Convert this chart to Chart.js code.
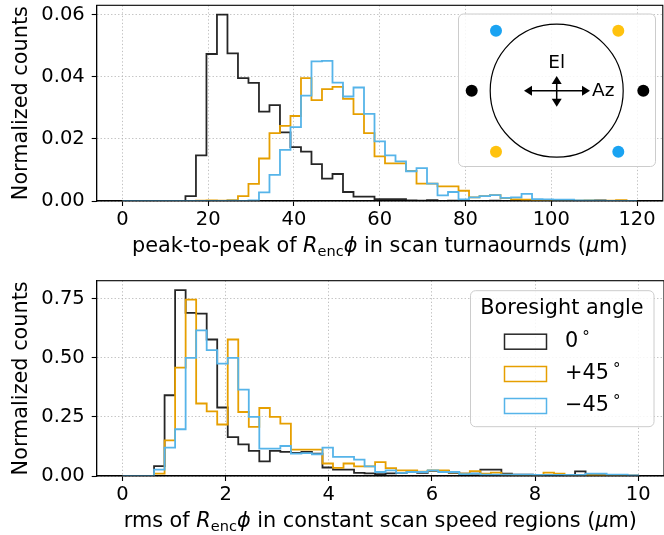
<!DOCTYPE html>
<html>
<head>
<meta charset="utf-8">
<script src="https://cdn.jsdelivr.net/npm/chart.js@4"></script>
<style>
  html, body { margin: 0; padding: 0; background: #fff; }
  #wrap { position: relative; width: 664px; height: 535px; }
  canvas { position: absolute; left: 0; }
  #turn { top: 0; }
  #rms { top: 270px; }
</style>
</head>
<body>
<div id="wrap">
  <canvas id="turn" width="664" height="270"></canvas>
  <canvas id="rms" width="664" height="265"></canvas>
</div>
<script>
// peak-to-peak in turnarounds: 49 bins over 0..120 um
const turnTicks = [0, 20, 40, 60, 80, 100, 120];
const turnYTicks = [0, 0.02, 0.04, 0.06];
const turnZero = [
  0, 0, 0, 0, 0, 0, 0.0016, 0.0147, 0.0474, 0.0601,
  0.0476, 0.0396, 0.0381, 0.0288, 0.0309, 0.0221, 0.0174, 0.0159, 0.0119, 0.0072,
  0.0087, 0.0029, 0.0014, 0.0014, 0.0006, 0.0006, 0.0006, 0.0002, 0.0001, 0.0003,
  0, 0.0001, 0, 0, 0, 0.0001, 0, 0, 0, 0,
  0, 0.0001, 0.0002, 0, 0, 0.0002, 0, 0, 0
];
const turnPlus = [
  0, 0, 0, 0, 0, 0, 0, 0.0001, 0.0002, 0.0001,
  0.0003, 0.0016, 0.0055, 0.0137, 0.0219, 0.0242, 0.0274, 0.0396, 0.0325, 0.0361,
  0.0368, 0.0329, 0.0280, 0.0219, 0.0144, 0.0121, 0.0121, 0.0097, 0.0056, 0.0056,
  0.0047, 0.0047, 0.0033, 0.0012, 0.0016, 0.0019, 0.0009, 0.0005, 0.0004, 0.0003,
  0.0002, 0.0002, 0.0001, 0.0001, 0.0002, 0.0001, 0.0001, 0.0003, 0
];
const turnMinus = [
  0, 0, 0, 0, 0, 0, 0, 0, 0, 0,
  0.0001, 0, 0.0002, 0.0028, 0.0084, 0.0165, 0.0238, 0.0340, 0.0450, 0.0452,
  0.0382, 0.0337, 0.0366, 0.0281, 0.0192, 0.0147, 0.0128, 0.0096, 0.0106, 0.0056,
  0.0018, 0.0029, 0.0005, 0.0012, 0.0016, 0.0019, 0.0010, 0.0012, 0.0023, 0.0006,
  0.0005, 0.0004, 0.0004, 0.0002, 0.0002, 0.0001, 0, 0, 0
];

// rms in constant-speed regions: 49 bins over 0..10 um
const rmsTicks = [0, 2, 4, 6, 8, 10];
const rmsYTicks = [0, 0.25, 0.5, 0.75];
const rmsZero = [
  0, 0, 0, 0.042, 0.342, 0.787, 0.691, 0.688, 0.578, 0.290,
  0.165, 0.134, 0.106, 0.062, 0.106, 0.102, 0.098, 0.102, 0.095, 0.036,
  0.027, 0.027, 0.013, 0.011, 0.008, 0.011, 0.013, 0.017, 0.013, 0.022,
  0.022, 0.013, 0.010, 0.010, 0.027, 0.027, 0.010, 0.006, 0.006, 0.004,
  0.003, 0.003, 0.003, 0.020, 0.006, 0.004, 0.003, 0.002, 0.001
];
const rmsPlus = [
  0, 0, 0, 0.010, 0.151, 0.459, 0.747, 0.307, 0.274, 0.218,
  0.578, 0.271, 0.208, 0.288, 0.250, 0.222, 0.112, 0.112, 0.112, 0.053,
  0.034, 0.053, 0.041, 0.041, 0.059, 0.033, 0.024, 0.024, 0.018, 0.024,
  0.024, 0.015, 0.010, 0.021, 0.010, 0.014, 0.006, 0.005, 0.005, 0.004,
  0.014, 0.010, 0.004, 0.003, 0.004, 0.003, 0.002, 0.002, 0.001
];
const rmsMinus = [
  0, 0, 0, 0.027, 0.120, 0.198, 0.500, 0.617, 0.533, 0.476,
  0.500, 0.366, 0.250, 0.116, 0.116, 0.127, 0.095, 0.097, 0.092, 0.120,
  0.081, 0.081, 0.069, 0.041, 0.017, 0.024, 0.013, 0.017, 0.017, 0.024,
  0.017, 0.017, 0.008, 0.010, 0.006, 0.006, 0.006, 0.006, 0.006, 0.005,
  0.005, 0.005, 0.005, 0.005, 0.010, 0.010, 0.006, 0.006, 0.003
];

const seriesLabels = ['0', '+45', '\u221245'];
const seriesColors = ['rgba(0,0,0,0.85)', '#E69F00', '#56B4E9'];

const FONT = '"DejaVu Sans", sans-serif';
const TICK_SIZE = 19.5;
const LABEL_SIZE = 20.8;

const binEdges = (hi, n) => Array.from({ length: n + 1 }, (_, i) => (i * hi) / n);

// outline of a step histogram: up from the first edge, across the bins, down at the last edge
const stepPoints = (edges, counts) => {
  const pts = [{ x: edges[0], y: 0 }];
  counts.forEach((c, i) => pts.push({ x: edges[i], y: c }));
  pts.push({ x: edges[counts.length], y: 0 });
  return pts;
};

const makeDatasets = (edges, series) =>
  series.map((counts, i) => ({
    label: seriesLabels[i],
    data: stepPoints(edges, counts),
    stepped: 'before', // horizontal first, then vertical at the next edge
    borderColor: seriesColors[i],
    borderWidth: 1.8,
    pointRadius: 0,
    fill: false,
    order: 2 - i,
  }));

const axisStyle = {
  grid: {
    color: '#b0b0b0',
    lineWidth: 0.8,
    tickColor: '#000',
    tickLength: 5,
    tickWidth: 1.1,
    tickBorderDash: [],
  },
  border: { color: '#000', width: 1.1, dash: [1.3, 2.2] },
};

// no extra room for edge tick labels, the plot box is fixed by layout padding
const noScalePadding = (s) => {
  s.paddingTop = 0;
  s.paddingBottom = 0;
  s.paddingLeft = 0;
  s.paddingRight = 0;
};

// full box round the plot area
const framePlugin = {
  id: 'frame',
  afterDatasetsDraw(chart) {
    const { ctx, chartArea: a } = chart;
    ctx.save();
    ctx.strokeStyle = '#000';
    ctx.lineWidth = 1.1;
    ctx.strokeRect(a.left, a.top, a.right - a.left, a.bottom - a.top);
    ctx.restore();
  },
};

// x label with italic symbols and a subscript
const drawRich = (ctx, parts, cx, y, size) => {
  const fontFor = (p) => `${p.it ? 'italic ' : ''}${p.sub ? size * 0.7 : size}px ${FONT}`;
  let total = 0;
  parts.forEach((p) => {
    ctx.font = fontFor(p);
    p.w = ctx.measureText(p.t).width;
    total += p.w;
  });
  let x = cx - total / 2;
  ctx.textAlign = 'left';
  ctx.textBaseline = 'alphabetic';
  ctx.fillStyle = '#000';
  parts.forEach((p) => {
    ctx.font = fontFor(p);
    ctx.fillText(p.t, x, y + (p.sub ? size * 0.2 : 0));
    x += p.w;
  });
};

const xTitlePlugin = (parts, baseline) => ({
  id: 'xTitle',
  afterDraw(chart) {
    const { ctx, chartArea: a } = chart;
    ctx.save();
    drawRich(ctx, parts.map((p) => ({ ...p })), (a.left + a.right) / 2, baseline, LABEL_SIZE);
    ctx.restore();
  },
});

const roundBox = (ctx, x, y, w, h, r) => {
  ctx.beginPath();
  ctx.roundRect(x, y, w, h, r);
  ctx.fillStyle = 'rgba(255,255,255,0.85)';
  ctx.fill();
  ctx.strokeStyle = '#cccccc';
  ctx.lineWidth = 1;
  ctx.stroke();
};

// boresight sketch: receiver circle, detector pairs and Az/El directions
const compassPlugin = {
  id: 'compass',
  afterDatasetsDraw(chart) {
    const ctx = chart.ctx;
    const cx = 556.7, cy = 90.7;
    ctx.save();
    roundBox(ctx, 458.5, 14, 197, 152.5, 5);

    ctx.beginPath();
    ctx.arc(cx, cy, 66.5, 0, Math.PI * 2);
    ctx.strokeStyle = '#000';
    ctx.lineWidth = 1.2;
    ctx.stroke();

    const dots = [
      [496, 30.7, '#1aa3f2'], [618.3, 30.7, '#ffc20e'],
      [471.7, cy, '#000'], [643.3, cy, '#000'],
      [496, 151.7, '#ffc20e'], [618.3, 151.7, '#1aa3f2'],
    ];
    dots.forEach(([x, y, c]) => {
      ctx.beginPath();
      ctx.arc(x, y, 6, 0, Math.PI * 2);
      ctx.fillStyle = c;
      ctx.fill();
    });

    const head = (tx, ty, dx, dy) => {
      // triangle pointing along (dx, dy)
      const L = 8, W = 5;
      ctx.beginPath();
      ctx.moveTo(tx, ty);
      ctx.lineTo(tx - dx * L - dy * W, ty - dy * L + dx * W);
      ctx.lineTo(tx - dx * L + dy * W, ty - dy * L - dx * W);
      ctx.closePath();
      ctx.fillStyle = '#000';
      ctx.fill();
    };
    ctx.strokeStyle = '#000';
    ctx.lineWidth = 1.5;
    ctx.beginPath();
    ctx.moveTo(528, cy); ctx.lineTo(586, cy);
    ctx.moveTo(cx, 80); ctx.lineTo(cx, 103);
    ctx.stroke();
    head(524, cy, -1, 0);
    head(590, cy, 1, 0);
    head(cx, 76, 0, -1);
    head(cx, 106.7, 0, 1);

    ctx.fillStyle = '#000';
    ctx.font = `18.5px ${FONT}`;
    ctx.textBaseline = 'middle';
    ctx.textAlign = 'center';
    ctx.fillText('El', cx, 63);
    ctx.textAlign = 'left';
    ctx.fillText('Az', 592, cy + 0.5);
    ctx.restore();
  },
};

// legend box with title, outlined patches and angle labels
const legendPlugin = {
  id: 'boxLegend',
  afterDatasetsDraw(chart) {
    const ctx = chart.ctx;
    ctx.save();
    roundBox(ctx, 470.5, 20.7, 183.5, 136, 5);
    ctx.fillStyle = '#000';
    ctx.font = `${LABEL_SIZE}px ${FONT}`;
    ctx.textAlign = 'center';
    ctx.textBaseline = 'middle';
    ctx.fillText('Boresight angle', 562, 38.5);

    const rows = [71.7, 104, 136];
    seriesLabels.forEach((lab, i) => {
      const y = rows[i];
      ctx.strokeStyle = seriesColors[i];
      ctx.lineWidth = 1.5;
      ctx.strokeRect(504.5, y - 7.5, 42, 15);
      ctx.fillStyle = '#000';
      ctx.textAlign = 'left';
      ctx.textBaseline = 'middle';
      ctx.font = `${LABEL_SIZE}px ${FONT}`;
      ctx.fillText(lab, 565, y);
      const w = ctx.measureText(lab).width;
      ctx.font = `15px ${FONT}`;
      ctx.fillText('\u00b0', 565 + w + 4, y - 4);
    });
    ctx.restore();
  },
};

const buildChart = (id, cfg) => {
  const edges = binEdges(cfg.hi, cfg.series[0].length);
  return new Chart(document.getElementById(id), {
    type: 'line',
    data: { datasets: makeDatasets(edges, cfg.series) },
    options: {
      responsive: false,
      maintainAspectRatio: false,
      animation: false,
      events: [],
      layout: { padding: cfg.padding },
      plugins: { legend: { display: false }, tooltip: { enabled: false } },
      scales: {
        x: {
          type: 'linear',
          min: cfg.xMin,
          max: cfg.xMax,
          ...axisStyle,
          afterBuildTicks: (s) => { s.ticks = cfg.xTicks.map((v) => ({ value: v })); },
          afterFit: (s) => { s.height = cfg.xHeight; noScalePadding(s); },
          ticks: {
            font: { family: FONT, size: TICK_SIZE },
            color: '#000',
            padding: 2,
            maxRotation: 0,
            autoSkip: false,
            callback: (v) => String(v),
          },
        },
        y: {
          type: 'linear',
          min: 0,
          max: cfg.yMax,
          ...axisStyle,
          afterBuildTicks: (s) => { s.ticks = cfg.yTicks.map((v) => ({ value: v })); },
          afterFit: (s) => { s.width = 96.7; noScalePadding(s); },
          ticks: {
            font: { family: FONT, size: TICK_SIZE },
            color: '#000',
            padding: 7,
            callback: (v) => v.toFixed(2),
          },
          title: {
            display: true,
            text: 'Normalized counts',
            color: '#000',
            font: { family: FONT, size: LABEL_SIZE },
            padding: { top: 9, bottom: 0 },
          },
        },
      },
    },
    plugins: cfg.plugins,
  });
};

buildChart('turn', {
  hi: 120,
  series: [turnZero, turnPlus, turnMinus],
  xMin: -6, xMax: 126, xTicks: turnTicks,
  yMax: 0.0631, yTicks: turnYTicks,
  xHeight: 69,
  padding: { top: 5.3, right: 1.2, left: 0, bottom: 0 },
  plugins: [
    framePlugin,
    compassPlugin,
    xTitlePlugin([
      { t: 'peak-to-peak of ' }, { t: 'R', it: true }, { t: 'enc', sub: true }, { t: '\u03d5', it: true },
      { t: ' in scan turnaournds (' }, { t: '\u03bc', it: true }, { t: 'm)' },
    ], 252),
  ],
});

buildChart('rms', {
  hi: 10,
  series: [rmsZero, rmsPlus, rmsMinus],
  xMin: -0.5, xMax: 10.5, xTicks: rmsTicks,
  yMax: 0.827, yTicks: rmsYTicks,
  xHeight: 59,
  padding: { top: 10.7, right: 0, left: 0, bottom: 0 },
  plugins: [
    framePlugin,
    legendPlugin,
    xTitlePlugin([
      { t: 'rms of ' }, { t: 'R', it: true }, { t: 'enc', sub: true }, { t: '\u03d5', it: true },
      { t: ' in constant scan speed regions (' }, { t: '\u03bc', it: true }, { t: 'm)' },
    ], 257),
  ],
});
</script>
</body>
</html>
